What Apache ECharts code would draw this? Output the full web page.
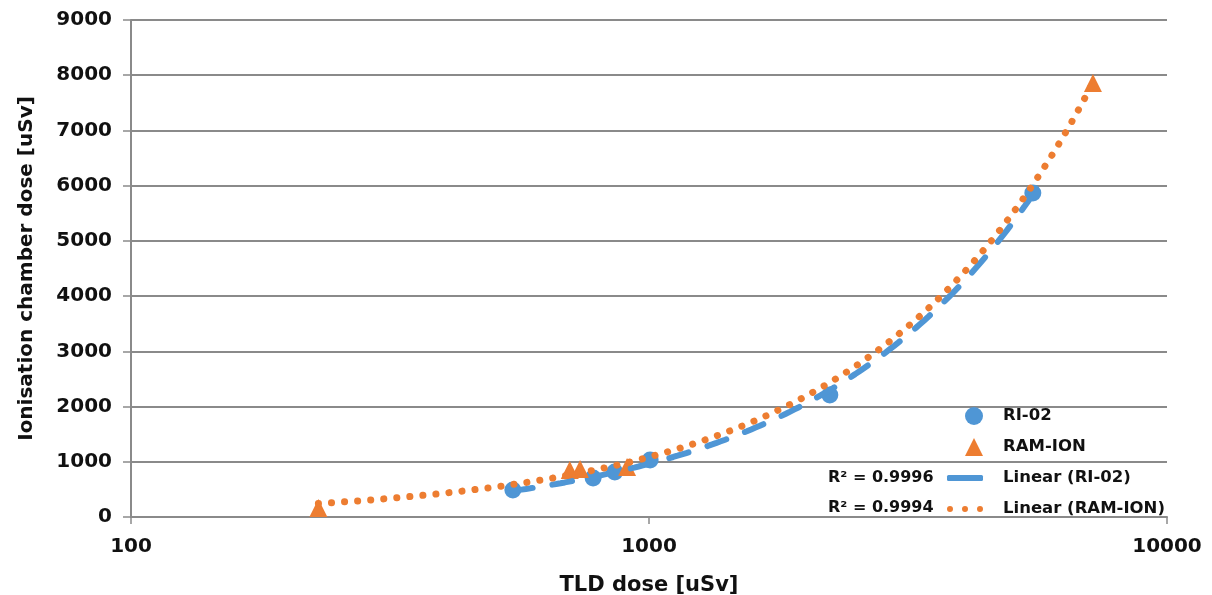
<!DOCTYPE html>
<html>
<head>
<meta charset="utf-8">
<script src="https://cdn.jsdelivr.net/npm/echarts@6/dist/echarts.min.js"></script>
<style>
  html, body { margin: 0; padding: 0; background: #fff; }
  #chart { width: 1212px; height: 595px; }
</style>
</head>
<body>
<div id="chart"></div>
<script>
// Data
var ri02Tld = [546, 780, 859, 1005, 2234, 5508];
var ri02Chamber = [490, 706, 815, 1032, 2209, 5867];
var ramIonTld = [230, 703, 736, 907, 7195];
var ramIonChamber = [163, 851, 870, 905, 7860];
var seriesNames = ['RI-02', 'RAM-ION', 'Linear (RI-02)', 'Linear (RAM-ION)'];
var rSquaredLabels = ['R\u00b2 = 0.9996', 'R\u00b2 = 0.9994'];

var BLUE = '#4f96d5';
var ORANGE = '#ed7d31';
var GRID_GRAY = '#8a8a8a';
var FONT = 'DejaVu Sans';

// legend icons for the trendlines (36 x 6 box)
var DASH_ICON = 'roundRect';
var DOTS_ICON = 'path://M0,3a3,3 0 1,0 6,0a3,3 0 1,0 -6,0Z' +
  'M15,3a3,3 0 1,0 6,0a3,3 0 1,0 -6,0Z' +
  'M30,3a3,3 0 1,0 6,0a3,3 0 1,0 -6,0Z';

var pairs = function (xs, ys) {
  return xs.map(function (x, i) { return [x, ys[i]]; });
};

// least-squares linear trendline (like a spreadsheet "Linear" trendline),
// sampled along the log x axis so it draws as a curve
var linearTrend = function (xs, ys) {
  var n = xs.length, sx = 0, sy = 0, sxx = 0, sxy = 0;
  for (var i = 0; i < n; i++) {
    sx += xs[i]; sy += ys[i]; sxx += xs[i] * xs[i]; sxy += xs[i] * ys[i];
  }
  var m = (n * sxy - sx * sy) / (n * sxx - sx * sx);
  var b = (sy - m * sx) / n;
  var lo = Math.min.apply(null, xs), hi = Math.max.apply(null, xs);
  var out = [];
  var steps = 120;
  for (var k = 0; k <= steps; k++) {
    var x = lo * Math.pow(hi / lo, k / steps);
    out.push([x, m * x + b]);
  }
  return out;
};

var chart = echarts.init(document.getElementById('chart'));

var labelFont = { fontFamily: FONT, fontWeight: 'bold', color: '#111' };
var plainNumber = function (v) { return String(Math.round(v)); };

chart.setOption({
  backgroundColor: '#fff',
  animation: false,
  textStyle: { fontFamily: FONT },
  grid: { left: 131, right: 45, top: 20, bottom: 78, outerBoundsMode: 'none' },
  xAxis: {
    type: 'log',
    logBase: 10,
    min: 100,
    max: 10000,
    name: 'TLD dose [uSv]',
    nameLocation: 'middle',
    nameGap: 58,
    nameTextStyle: Object.assign({ fontSize: 21 }, labelFont),
    axisLine: { lineStyle: { color: GRID_GRAY, width: 2 } },
    axisTick: { show: true, length: 7, lineStyle: { color: GRID_GRAY, width: 1.5 } },
    minorTick: { show: false },
    splitLine: { show: false },
    axisLabel: Object.assign({ fontSize: 20, margin: 20, formatter: plainNumber }, labelFont)
  },
  yAxis: {
    type: 'value',
    min: 0,
    max: 9000,
    interval: 1000,
    name: 'Ionisation chamber dose [uSv]',
    nameLocation: 'middle',
    nameRotate: 90,
    nameGap: 94,
    nameTextStyle: Object.assign({ fontSize: 20 }, labelFont),
    axisLine: { show: true, lineStyle: { color: GRID_GRAY, width: 2 } },
    axisTick: { show: true, length: 8, lineStyle: { color: GRID_GRAY, width: 1.5 } },
    splitLine: { lineStyle: { color: GRID_GRAY, width: 2 } },
    axisLabel: Object.assign({ fontSize: 20, margin: 19, formatter: plainNumber }, labelFont)
  },
  legend: [{
    data: [seriesNames[0], seriesNames[1]],
    orient: 'vertical',
    left: 960,
    top: 402,
    itemWidth: 18,
    itemHeight: 18,
    itemGap: 13,
    selectedMode: false,
    textStyle: Object.assign({ fontSize: 16.5, lineHeight: 18, padding: [0, 0, 0, 15] }, labelFont)
  }, {
    data: [
      { name: seriesNames[2], icon: DASH_ICON },
      { name: seriesNames[3], icon: DOTS_ICON }
    ],
    orient: 'vertical',
    left: 942,
    top: 464,
    itemWidth: 36,
    itemHeight: 6,
    itemGap: 13,
    selectedMode: false,
    textStyle: Object.assign({ fontSize: 16.5, lineHeight: 18, padding: [0, 0, 0, 15] }, labelFont)
  }],
  graphic: [{
    type: 'text',
    left: 828,
    top: 470,
    style: { text: rSquaredLabels[0], fontSize: 16, fill: '#111', fontFamily: FONT, fontWeight: 'bold' }
  }, {
    type: 'text',
    left: 828,
    top: 500,
    style: { text: rSquaredLabels[1], fontSize: 16, fill: '#111', fontFamily: FONT, fontWeight: 'bold' }
  }],
  series: [{
    name: seriesNames[0],
    type: 'scatter',
    symbol: 'circle',
    symbolSize: 17,
    itemStyle: { color: BLUE, opacity: 1 },
    data: pairs(ri02Tld, ri02Chamber)
  }, {
    name: seriesNames[1],
    type: 'scatter',
    symbol: 'triangle',
    symbolSize: 18,
    itemStyle: { color: ORANGE, opacity: 1 },
    data: pairs(ramIonTld, ramIonChamber)
  }, {
    name: seriesNames[2],
    type: 'line',
    showSymbol: false,
    symbol: 'none',
    itemStyle: { color: BLUE },
    lineStyle: { color: BLUE, width: 6, type: [20, 20], cap: 'round' },
    data: linearTrend(ri02Tld, ri02Chamber)
  }, {
    name: seriesNames[3],
    type: 'line',
    showSymbol: false,
    symbol: 'none',
    itemStyle: { color: ORANGE },
    lineStyle: { color: ORANGE, width: 7, type: [0.1, 13], cap: 'round' },
    data: linearTrend(ramIonTld, ramIonChamber)
  }]
});
</script>
</body>
</html>
